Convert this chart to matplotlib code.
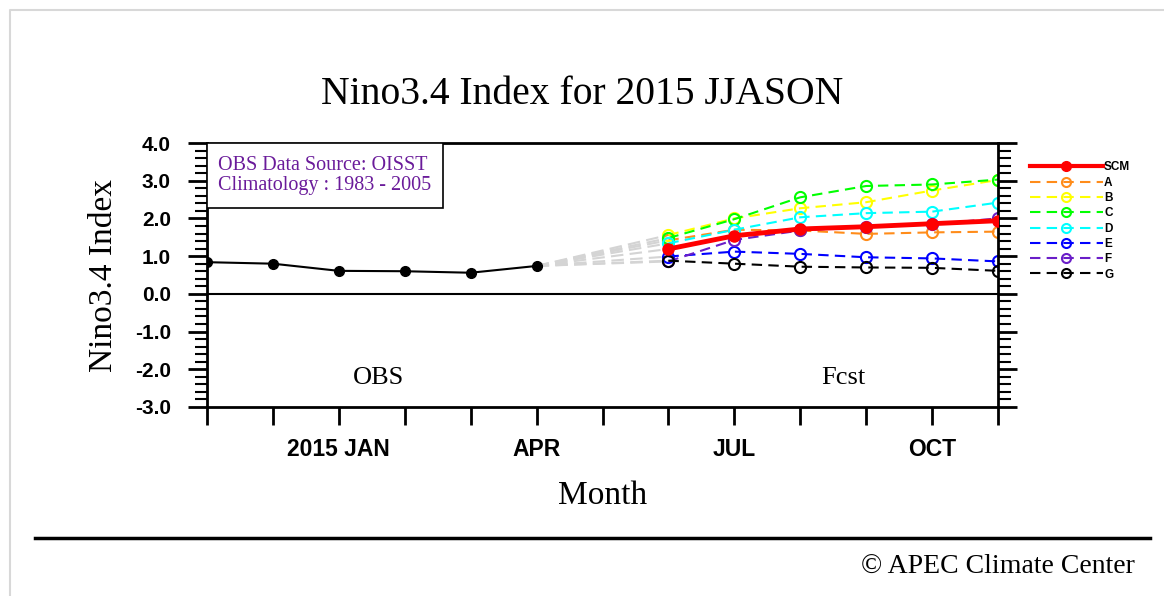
import numpy as np
import matplotlib
matplotlib.use('Agg')
import matplotlib.pyplot as plt
from matplotlib.lines import Line2D
from matplotlib.patches import Rectangle

# Months from Nov 2014 to Nov 2015
months = np.arange(13)
tick_labels = ['', '', '2015 JAN', '', '', 'APR', '', '', 'JUL', '', '', 'OCT', '']

# Observed Nino3.4 index (Nov 2014 - Apr 2015)
obs_x = months[:6]
obs_y = [0.84, 0.80, 0.61, 0.60, 0.56, 0.74]

# Forecasts Jun - Nov 2015
fcst_x = months[7:]
scm = [1.19, 1.54, 1.72, 1.78, 1.86, 1.94]
model_names = ['A', 'B', 'C', 'D', 'E', 'F', 'G']
model_vals = [
    [1.42, 1.70, 1.68, 1.59, 1.63, 1.65],
    [1.56, 2.00, 2.27, 2.43, 2.74, 3.02],
    [1.48, 1.98, 2.56, 2.86, 2.90, 3.03],
    [1.34, 1.70, 2.03, 2.14, 2.18, 2.42],
    [0.99, 1.12, 1.06, 0.97, 0.94, 0.86],
    [0.86, 1.43, 1.68, 1.78, 1.85, 2.00],
    [0.88, 0.80, 0.72, 0.70, 0.69, 0.61],
]
model_colors = ['#ff8c1a', '#ffff00', '#00ff00', '#00ffff', '#0000ff', '#6a1ec8', '#000000']

fig = plt.figure(figsize=(11.64, 5.96), dpi=100)
ax = fig.add_axes([207 / 1164, 1 - 407 / 596, (998 - 207) / 1164, (407 - 143) / 596])

# gray connectors from last obs to first forecast
for v in [scm] + model_vals:
    ax.plot([obs_x[-1], fcst_x[0]], [obs_y[-1], v[0]], color='#d4d4d4',
            ls=(0, (6, 3)), lw=1.5, zorder=1)

ax.axhline(0, color='black', lw=1.5, zorder=1)
ax.plot(obs_x, obs_y, color='black', lw=1.5, marker='o', ms=7, zorder=3)

dash = (0, (5, 3))
handles = [Line2D([], [], color='red', lw=3, marker='o', ms=7)]
for name, vals, c in zip(model_names, model_vals, model_colors):
    ax.plot(fcst_x, vals, color=c, ls=dash, lw=1.5, marker='o', ms=8,
            mfc='none', mec=c, mew=1.5, zorder=2)
    handles.append(Line2D([], [], color=c, ls=dash, lw=1.5, marker='o',
                          ms=6.5, mfc='none', mec=c, mew=1.5))
ax.plot(fcst_x, scm, color='red', lw=3.5, marker='o', ms=8, zorder=4)

ax.set_xlim(0, 12)
ax.set_ylim(-3, 4)
ax.set_xticks(months)
ax.set_xticklabels(tick_labels, fontfamily='Liberation Sans', fontweight='bold', fontsize=16.5)
ax.set_yticks(np.arange(-3, 5, 1))
ax.set_yticklabels(['%.1f' % v for v in np.arange(-3, 5, 1)],
                   fontfamily='Liberation Sans', fontweight='bold', fontsize=15)
ax.set_yticks(np.arange(-3, 4.01, 0.2), minor=True)
ax.tick_params(axis='x', direction='out', length=13, width=2, pad=9)
ax.tick_params(axis='y', which='major', direction='out', length=14, width=2,
               right=True, pad=12)
ax.tick_params(axis='y', which='minor', direction='out', length=9, width=1.5, right=True)
for s in ax.spines.values():
    s.set_linewidth(2)

ax.set_xlabel('Month', fontfamily='Liberation Serif', fontsize=24, labelpad=14)
ax.set_ylabel('Nino3.4 Index', fontfamily='Liberation Serif', fontsize=24, labelpad=11)

ax.text(2.6, -2.4, 'OBS', fontfamily='Liberation Serif', fontsize=19, ha='center')
ax.text(9.65, -2.4, 'Fcst', fontfamily='Liberation Serif', fontsize=19, ha='center')

# info box flush with the top-left corner of the axes
ax.add_patch(Rectangle((0, 1 - 0.246), 0.298, 0.246, transform=ax.transAxes,
                       fc='white', ec='black', lw=1.2, zorder=5))
ax.text(0.014, 0.878, 'OBS Data Source: OISST\nClimatology : 1983 - 2005',
        transform=ax.transAxes, va='center', ha='left', color='#6a1b9a',
        fontfamily='Liberation Serif', fontsize=14.5, linespacing=1.1, zorder=6)

leg = ax.legend(handles, ['SCM'] + model_names, loc='upper left',
                bbox_to_anchor=(1.040, 0.93), frameon=False, handlelength=6.2,
                labelspacing=0.28, handletextpad=0.1, borderaxespad=0,
                borderpad=0,
                prop={'family': 'Liberation Sans', 'weight': 'bold', 'size': 8.5})

fig.text(0.5, 1 - 95 / 596, 'Nino3.4 Index for 2015 JJASON', ha='center', va='center',
         fontfamily='Liberation Serif', fontsize=28.5)
fig.text(1135 / 1164, 1 - 566 / 596, '\u00a9 APEC Climate Center', ha='right', va='center',
         fontfamily='Liberation Serif', fontsize=20)
fig.add_artist(Line2D([35 / 1164, 1150 / 1164], [1 - 538 / 596] * 2, color='black', lw=2.5))
fig.add_artist(Line2D([10 / 1164, 10 / 1164, 1], [0, 1 - 10 / 596, 1 - 10 / 596],
                      color='#d8d8d8', lw=1.5))

fig.savefig('out.png', dpi=100)
